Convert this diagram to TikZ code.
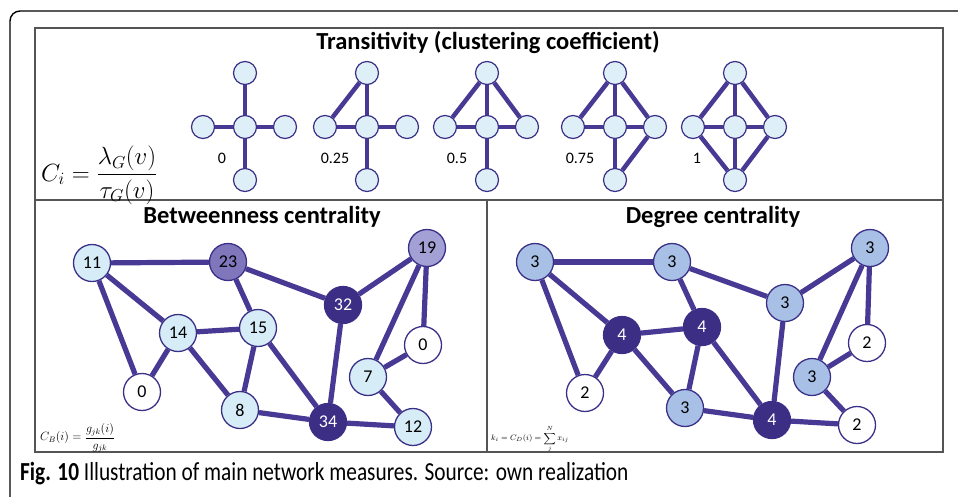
\documentclass[tikz,border=0pt]{standalone}
\usepackage{amsmath}
\usepackage[no-math]{fontspec}
\setmainfont{Carlito}
\newfontfamily\capfont[FakeStretch=0.82]{Carlito}
\usetikzlibrary{backgrounds}
\definecolor{edgec}{RGB}{72,58,148}
\definecolor{bord}{RGB}{58,48,135}
\definecolor{lightn}{RGB}{214,236,246}
\definecolor{topn}{RGB}{222,239,247}
\definecolor{midp}{RGB}{128,118,188}
\definecolor{palep}{RGB}{162,160,212}
\definecolor{darkp}{RGB}{60,46,132}
\definecolor{degthree}{RGB}{168,192,230}
\definecolor{framec}{RGB}{85,85,85}
\tikzset{
  bnode/.style={circle, draw=bord, line width=1.3pt, minimum size=37pt, inner sep=0pt, font=\fontsize{18}{18}\selectfont},
  lnode/.style={bnode, fill=lightn},
  wnode/.style={bnode, fill=white},
  mnode/.style={bnode, fill=midp},
  pnode/.style={bnode, fill=palep},
  dnode/.style={bnode, fill=darkp, text=white},
  tnode/.style={bnode, fill=degthree},
  snode/.style={circle, draw=bord, line width=1.2pt, fill=topn, minimum size=23pt, inner sep=0pt},
  bedge/.style={draw=edgec, line width=5.2pt},
  sedge/.style={draw=edgec, line width=4.5pt},
  ttl/.style={font=\bfseries\fontsize{24.5}{24.5}\selectfont},
  lbl/.style={font=\fontsize{16}{16}\selectfont}
}
\begin{document}
\begin{tikzpicture}[x=1pt,y=-1pt]
\useasboundingbox (0,0) rectangle (958,496);
% outer frame
\draw[line width=1.4pt, rounded corners=10pt] (10,498) -- (10,11) -- (960,11);
% panel frames
\draw[framec, line width=1.6pt] (35,28) rectangle (943,452);
\draw[framec, line width=1.6pt] (35,200) -- (943,200);
\draw[framec, line width=1.6pt] (487,200) -- (487,452);
% titles
\node[ttl] (t1) at (488,42) {Transitivity (clustering coefficient)};
\node[ttl] (t2) at (262,217) {Betweenness centrality};
\node[ttl] (t3) at (713,217) {Degree centrality};
% top formula
\node[anchor=west, inner sep=0pt] (f1) at (41,175) {\fontsize{25}{29}\selectfont$C_i=\dfrac{\lambda_G(v)}{\tau_G(v)}$};
% transitivity graphs
\foreach \n/\cx in {a/245,b/367,c/487,d/615,e/735}{
  \node[snode] (\n c) at (\cx,127) {};
  \node[snode] (\n t) at (\cx,73) {};
  \node[snode] (\n b) at (\cx,180) {};
  \node[snode] (\n l) at (\cx-42,127) {};
  \node[snode] (\n r) at (\cx+40,127) {};
}
\node[lbl] (la) at (222,158) {0};
\node[lbl] (lb) at (335,158) {0.25};
\node[lbl] (lc) at (457,158) {0.5};
\node[lbl] (ld) at (580,158) {0.75};
\node[lbl] (le) at (697,158) {1};
\begin{scope}[on background layer]
\foreach \n in {a,b,c,d,e}{
  \draw[sedge] (\n c) -- (\n t);
  \draw[sedge] (\n c) -- (\n b);
  \draw[sedge] (\n c) -- (\n l);
  \draw[sedge] (\n c) -- (\n r);
}
\draw[sedge] (bl) -- (bt);
\draw[sedge] (cl) -- (ct); \draw[sedge] (ct) -- (cr);
\draw[sedge] (dl) -- (dt); \draw[sedge] (dt) -- (dr); \draw[sedge] (dr) -- (db);
\draw[sedge] (el) -- (et); \draw[sedge] (et) -- (er); \draw[sedge] (er) -- (eb); \draw[sedge] (eb) -- (el);
\end{scope}
% betweenness graph
\node[lnode] (b11) at (92,263) {11};
\node[mnode] (b23) at (228,262) {23};
\node[pnode] (b19) at (427,248) {19};
\node[dnode] (b32) at (343,305) {32};
\node[lnode] (b14) at (178,333) {14};
\node[lnode] (b15) at (258,328) {15};
\node[wnode] (b0l) at (142,392) {0};
\node[lnode] (b8) at (240,410) {8};
\node[dnode] (b34) at (328,422) {34};
\node[lnode] (b12) at (413,427) {12};
\node[lnode] (b7) at (368,377) {7};
\node[wnode] (b0r) at (423,345) {0};
\begin{scope}[on background layer]
\foreach \a/\b in {b11/b23,b11/b14,b11/b0l,b23/b15,b23/b32,b19/b32,b19/b7,b19/b0r,b14/b15,b14/b0l,b14/b8,b15/b8,b15/b34,b32/b34,b8/b34,b34/b12,b7/b0r,b7/b12}
  \draw[bedge] (\a) -- (\b);
\end{scope}
\node[anchor=west, inner sep=0pt] (f2) at (40,438) {\fontsize{11.5}{13}\selectfont$C_B(i)=\dfrac{g_{jk}(i)}{g_{jk}}$};
% degree graph
\node[tnode] (d1) at (535,262) {3};
\node[tnode] (d2) at (672,262) {3};
\node[tnode] (d3) at (870,248) {3};
\node[tnode] (d4) at (785,303) {3};
\node[dnode] (d5) at (622,335) {4};
\node[dnode] (d6) at (702,327) {4};
\node[wnode] (d7) at (585,393) {2};
\node[tnode] (d8) at (685,408) {3};
\node[dnode] (d9) at (772,420) {4};
\node[wnode] (d10) at (857,425) {2};
\node[tnode] (d11) at (812,377) {3};
\node[wnode] (d12) at (867,343) {2};
\begin{scope}[on background layer]
\foreach \a/\b in {d1/d2,d1/d5,d1/d7,d2/d6,d2/d4,d3/d4,d3/d11,d3/d12,d5/d6,d5/d7,d5/d8,d6/d8,d6/d9,d4/d9,d8/d9,d9/d10,d11/d12,d11/d10}
  \draw[bedge] (\a) -- (\b);
\end{scope}
\node[anchor=west, inner sep=0pt] (f3) at (491,439) {\fontsize{8.5}{10}\selectfont$k_i=C_D(i)=\displaystyle\sum_{j}^{N}x_{ij}$};
% caption
\node[anchor=west, inner sep=0pt] (cap) at (20,474) {\capfont\fontsize{26}{26}\selectfont\textbf{Fig. 10} Illustration of main network measures. Source: own realization};
\end{tikzpicture}
\end{document}
